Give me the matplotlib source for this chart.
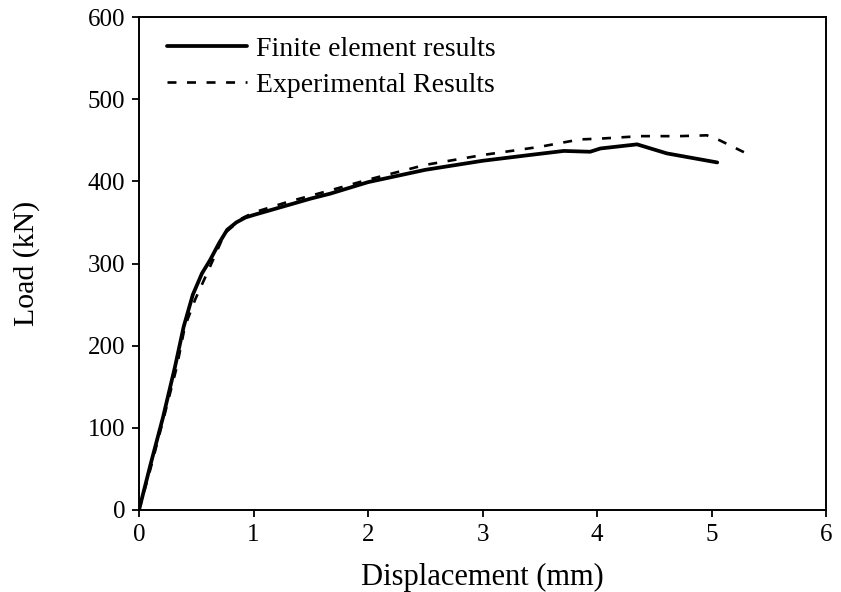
import matplotlib
matplotlib.use("Agg")
import matplotlib.pyplot as plt

# Finite element results (solid)
fe_disp = [0.0, 0.10, 0.21, 0.314, 0.39, 0.47, 0.55, 0.62, 0.70, 0.77, 0.85, 0.93, 1.0,
           1.2, 1.5, 1.67, 2.0, 2.5, 3.0, 3.41, 3.71, 3.94, 4.03, 4.35, 4.61, 5.05]
fe_load = [0, 55, 113, 174, 223, 262, 288, 304, 325, 341, 350, 356, 359,
           367, 379, 385, 399, 414, 425, 432, 437, 436, 440, 445, 434, 423]

# Experimental results (dashed)
ex_disp = [0.0, 0.10, 0.227, 0.33, 0.40, 0.49, 0.62, 0.75, 0.90, 1.0, 1.3, 1.67, 2.0,
           2.5, 3.0, 3.15, 3.5, 3.85, 4.03, 4.38, 4.72, 4.96, 5.07, 5.29]
ex_load = [0, 50, 118, 174, 223, 256, 296, 337, 355, 362, 375, 389, 402,
           420, 432, 435, 442, 451, 452, 455, 455, 456, 450, 435]

x_ticks = [0, 1, 2, 3, 4, 5, 6]
y_ticks = [0, 100, 200, 300, 400, 500, 600]

plt.rcParams['font.family'] = ['Liberation Serif', 'DejaVu Serif']

fig = plt.figure(figsize=(8.41, 5.92), dpi=100)
ax = fig.add_axes([139/841, 1 - 510/592, (826-139)/841, (510-17)/592])

ax.plot(fe_disp, fe_load, color='black', lw=2.7, solid_joinstyle='round',
        solid_capstyle='round', label='Finite element results')
ax.plot(ex_disp, ex_load, color='black', lw=1.9, linestyle=(0, (3.4, 4.0)),
        label='Experimental Results')

ax.set_xlim(0, 6)
ax.set_ylim(0, 600)
ax.set_xticks(x_ticks)
ax.set_yticks(y_ticks)
ax.tick_params(direction='out', length=5, width=1.3, labelsize=18, colors='black',
               top=False, right=False, pad=5)
for s in ax.spines.values():
    s.set_linewidth(1.4)
    s.set_color('black')

ax.set_xlabel('Displacement (mm)', fontsize=22, labelpad=12)
ax.set_ylabel('Load (kN)', fontsize=21.5, labelpad=34)

leg = ax.legend(loc='upper left', frameon=False, fontsize=20, handlelength=2.9,
                handletextpad=0.3, labelspacing=0.38, borderaxespad=0.3,
                bbox_to_anchor=(0.012, 1.0))

fig.savefig('out.png', dpi=100)
